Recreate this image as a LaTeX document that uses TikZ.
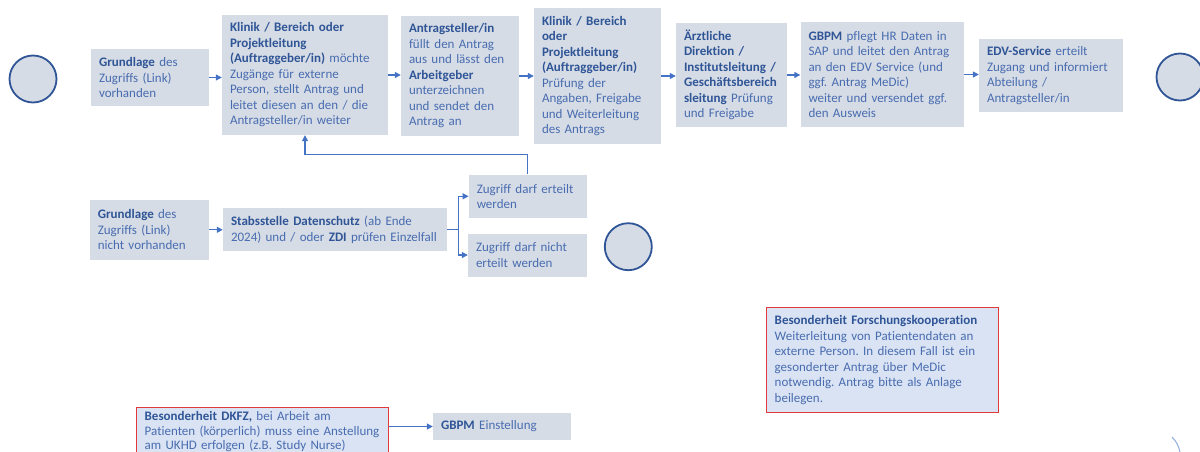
\documentclass[tikz,border=0pt]{standalone}
\usepackage{fontspec}
\setmainfont{Carlito}[Ligatures=NoCommon]
\usetikzlibrary{arrows.meta}

\definecolor{boxgray}{RGB}{214,220,229}
\definecolor{notefill}{RGB}{218,227,243}
\definecolor{boldblue}{RGB}{47,85,151}
\definecolor{txtblue}{RGB}{72,108,176}
\definecolor{lineblue}{RGB}{68,114,196}
\definecolor{notered}{RGB}{226,58,58}

\newcommand{\bld}[1]{\textbf{\color{boldblue}#1}}

\tikzset{>={Triangle[length=6pt,width=6pt]}}
\tikzset{
    stage/.style={fill=boxgray, inner xsep=8pt, inner ysep=0pt, align=left,
        text=txtblue, font=\fontsize{13}{15.5}\selectfont},
    note/.style={stage, fill=notefill, draw=notered, line width=1pt},
    flow/.style={->, lineblue, line width=1.2pt},
    endpoint/.style={circle, draw=boldblue, fill=boxgray, line width=1.8pt,
        minimum size=47pt, inner sep=0pt}
}

\begin{document}
\frenchspacing
\lefthyphenmin=64
\hyphenpenalty=10000
\begin{tikzpicture}[x=1pt,y=-1pt]

    \useasboundingbox (0,0) rectangle (1200,452);

    % upper row
    \node[endpoint] (start) at (33,79) {};
    \node[stage, text width=102pt, minimum height=57pt] (base) at (150,77.5)
        {\bld{Grundlage} des\\Zugriffs (Link)\\vorhanden};
    \node[stage, text width=150pt, minimum height=120pt] (client) at (305,75)
        {\bld{Klinik / Bereich oder}\\\bld{Projektleitung}\\\bld{(Auftraggeber/in)} möchte\\Zugänge für externe\\Person, stellt Antrag und\\leitet diesen an den / die\\Antragsteller/in weiter};
    \node[stage, text width=102pt, minimum height=120pt] (applicant) at (460,76)
        {\bld{Antragsteller/in}\\füllt den Antrag\\aus und lässt den\\\bld{Arbeitgeber}\\unterzeichnen\\und sendet den\\Antrag an};
    \node[stage, text width=111pt, minimum height=136pt] (check) at (597.5,76)
        {\bld{Klinik / Bereich}\\\bld{oder}\\\bld{Projektleitung}\\\bld{(Auftraggeber/in)}\\Prüfung der\\Angaben, Freigabe\\und Weiterleitung\\des Antrags};
    \node[stage, text width=95pt, minimum height=104pt] (board) at (731.5,75)
        {\bld{Ärztliche}\\\bld{Direktion /}\\\bld{Institutsleitung /}\\\bld{Geschäftsbereich}\\\bld{sleitung} Prüfung\\und Freigabe};
    \node[stage, text width=147pt, minimum height=105pt] (hr) at (882,74.5)
        {\bld{GBPM} pflegt HR Daten in\\SAP und leitet den Antrag\\an den EDV Service (und\\ggf. Antrag MeDic)\\weiter und versendet ggf.\\den Ausweis};
    \node[stage, text width=128pt, minimum height=73pt] (it) at (1051,75.5)
        {\bld{EDV-Service} erteilt\\Zugang und informiert\\Abteilung /\\Antragsteller/in};
    \node[endpoint] (finish) at (1180,77) {};

    \draw[flow] (base.east) -- (base.east -| client.west);
    \draw[flow] (client.east) -- (client.east -| applicant.west);
    \draw[flow] (applicant.east) -- (applicant.east -| check.west);
    \draw[flow] (check.east) -- (check.east -| board.west);
    \draw[flow] (board.east) -- (board.east -| hr.west);
    \draw[flow] (hr.east) -- (hr.east -| it.west);

    % lower row
    \node[stage, text width=103pt, minimum height=59.6pt] (nobase) at (149.3,229.8)
        {\bld{Grundlage} des\\Zugriffs (Link)\\nicht vorhanden};
    \node[stage, text width=208pt, minimum height=43.4pt] (privacy) at (335,229.7)
        {\bld{Stabsstelle Datenschutz} (ab Ende\\2024) und / oder \bld{ZDI} prüfen Einzelfall};
    \node[stage, text width=102pt, minimum height=43.4pt] (granted) at (527.8,196.3)
        {Zugriff darf erteilt\\werden};
    \node[stage, text width=103pt, minimum height=43pt] (denied) at (527.5,255)
        {Zugriff darf nicht\\erteilt werden};
    \node[endpoint] (stop) at (628.3,246.7) {};

    \draw[flow] (nobase.east) -- (nobase.east -| privacy.west);
    \draw[flow] (privacy.east) -- ++(11,0) |- (granted.west);
    \draw[flow] (privacy.east) -- ++(11,0) |- (denied.west);
    \draw[flow] (granted.north) -- ++(0,-19.6) -| (client.south);

    % notes
    \node[note, text width=216pt, minimum height=105.4pt] (research) at (882.7,360)
        {\bld{Besonderheit Forschungskooperation}\\Weiterleitung von Patientendaten an\\externe Person. In diesem Fall ist ein\\gesonderter Antrag über MeDic\\notwendig. Antrag bitte als Anlage\\beilegen.};
    \node[note, font=\fontsize{13}{14.5}\selectfont, text width=235.6pt, minimum height=48pt] (dkfz) at (262.5,431.7)
        {\bld{Besonderheit DKFZ,} bei Arbeit am\\Patienten (körperlich) muss eine Anstellung\\am UKHD erfolgen (z.B. Study Nurse)};
    \node[stage, text width=122pt, minimum height=27pt] (hire) at (502,426.5)
        {\bld{GBPM} Einstellung};

    \draw[flow] (dkfz.east |- hire.west) -- (hire.west);

    \draw[lineblue!60, line width=1pt] (1172,437) to[bend left=15] (1180,452);

\end{tikzpicture}
\end{document}
